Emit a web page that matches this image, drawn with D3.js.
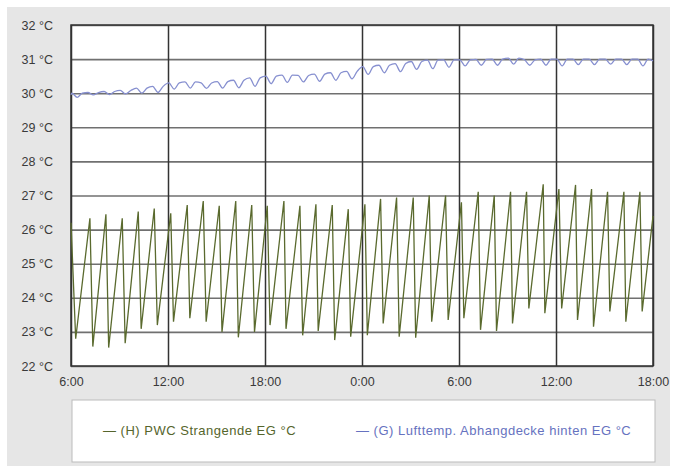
<!DOCTYPE html>
<html><head><meta charset="utf-8">
<script src="https://cdn.jsdelivr.net/npm/d3@7/dist/d3.min.js"></script>
<style>
html,body{margin:0;padding:0;background:#fff;}
svg{display:block;font-family:"Liberation Sans",Arial,sans-serif;}
</style></head>
<body><svg id="c" width="677" height="470"></svg>
<script>
// ---- data ----
const yTicks = [22,23,24,25,26,27,28,29,30,31,32];
const xTickLabels = ["6:00","12:00","18:00","0:00","6:00","12:00","18:00"];
const seriesNames = ["(H) PWC Strangende EG °C", "(G) Lufttemp. Abhangdecke hinten EG °C"];
// hours after 6:00 (day 1), value °C
const greenData = [
 [0,26.2],[0.29,22.8],
 [1.17,26.33],[1.35,22.57],[2.16,26.45],[2.33,22.54],[3.17,26.33],[3.35,22.67],
 [4.16,26.53],[4.34,23.09],[5.15,26.62],[5.34,23.2],[6.17,26.48],[6.34,23.3],
 [7.19,26.72],[7.35,23.4],[8.18,26.84],[8.36,23.3],[9.17,26.7],[9.34,23.0],
 [10.19,26.84],[10.35,22.84],[11.18,26.72],[11.35,23.0],
 [12.14,26.7],[12.31,23.2],[13.17,26.84],[13.30,23.09],[14.16,26.7],[14.33,22.9],
 [15.15,26.74],[15.29,23.03],[16.16,26.72],[16.31,22.76],[17.15,26.6],[17.30,22.86],
 [18.18,26.74],[18.33,22.9],[19.15,26.9],[19.31,23.25],[20.14,26.94],[20.30,22.86],
 [21.17,26.94],[21.32,22.83],[22.16,27.0],[22.31,23.3],[23.17,27.0],[23.33,23.35],
 [24.15,26.8],[24.30,23.4],[25.19,27.11],[25.33,23.06],[26.18,27.0],[26.32,23.03],
 [27.19,27.11],[27.31,23.25],[28.18,27.11],[28.32,23.69],[29.21,27.33],[29.31,23.55],
 [30.18,27.19],[30.35,23.69],[31.21,27.31],[31.33,23.35],[32.20,27.19],[32.32,23.15],
 [33.19,27.11],[33.33,23.6],[34.20,27.11],[34.32,23.3],[35.19,27.11],[35.33,23.6],
 [36,26.4]
];
// per hour: [hour, high, low]
const blueHours = [
 [0,30.0,29.88],[1,30.02,29.95],[2,30.05,29.96],[3,30.08,29.98],[4,30.15,30.0],[5,30.2,30.02],
 [6,30.3,30.12],[7,30.33,30.15],[8,30.3,30.14],[9,30.34,30.15],[10,30.38,30.16],[11,30.45,30.2],
 [12,30.5,30.28],[13,30.53,30.32],[14,30.52,30.33],[15,30.56,30.35],[16,30.6,30.38],[17,30.64,30.42],
 [18,30.78,30.55],[19,30.82,30.6],[20,30.87,30.63],[21,30.93,30.7],[22,30.97,30.72],[23,30.98,30.76],
 [24,30.98,30.8],[25,30.99,30.82],[26,31.0,30.82],[27,31.03,30.85],[28,30.98,30.82],[29,31.0,30.82],
 [30,31.0,30.8],[31,31.0,30.84],[32,31.0,30.84],[33,31.0,30.85],[34,31.0,30.84],[35,31.0,30.8]
];
const blueEnd = [36,30.95];

// ---- chart ----
const W=677,H=470;
const M={l:71,r:653,t:25,b:366};
const svg=d3.select("#c");
const base=new Date(2020,0,1,6,0,0);
const hr=h=>new Date(+base+h*3600000);

svg.append("rect").attr("x",7).attr("y",7).attr("width",663).attr("height",459).attr("fill","#e6e6e6");
svg.append("rect").attr("x",M.l).attr("y",M.t).attr("width",M.r-M.l).attr("height",M.b-M.t).attr("fill","#fff");

const x=d3.scaleTime().domain([hr(0),hr(36)]).range([M.l,M.r]);
const y=d3.scaleLinear().domain([22,32]).range([M.b,M.t]);
const xTicks=d3.range(0,37,6).map(hr);

// horizontal grid
svg.append("g").attr("transform",`translate(${M.l},0)`)
  .call(d3.axisLeft(y).tickValues(yTicks).tickSize(-(M.r-M.l)).tickFormat(""))
  .call(g=>{g.select(".domain").remove();g.selectAll("line").attr("stroke","#707070").attr("stroke-width",1.6);});
// vertical grid
svg.append("g").attr("transform",`translate(0,${M.b})`)
  .call(d3.axisBottom(x).tickValues(xTicks).tickSize(-(M.b-M.t)).tickFormat(""))
  .call(g=>{g.select(".domain").remove();g.selectAll("line").attr("stroke","#333").attr("stroke-width",1.5);});
// border
svg.append("rect").attr("x",M.l).attr("y",M.t).attr("width",M.r-M.l).attr("height",M.b-M.t)
  .attr("fill","none").attr("stroke","#333").attr("stroke-width",1.5);

// y labels
svg.append("g").attr("transform",`translate(${M.l},0)`)
  .call(d3.axisLeft(y).tickValues(yTicks).tickSize(0).tickPadding(18).tickFormat(d=>d+" °C"))
  .call(g=>{g.select(".domain").remove();g.selectAll("text").attr("fill","#3a3a3a").style("font-size","12.5px");});
// x labels
svg.append("g").attr("transform",`translate(0,${M.b})`)
  .call(d3.axisBottom(x).tickValues(xTicks).tickSize(0).tickPadding(11).tickFormat((d,i)=>xTickLabels[i]))
  .call(g=>{g.select(".domain").remove();g.selectAll("text").attr("fill","#3a3a3a").style("font-size","12.5px");});

const greenColor="#5a6a2e", blueColor="#8790d0";
const line=d3.line().x(d=>x(hr(d[0]))).y(d=>y(d[1]));
svg.append("path").datum(greenData).attr("d",line).attr("fill","none").attr("stroke",greenColor).attr("stroke-width",1.3);

const bluePts=[];
blueHours.forEach(r=>{bluePts.push([r[0]+0.05,r[1]]);bluePts.push([r[0]+0.38,r[2]]);bluePts.push([r[0]+0.7,r[1]]);});
bluePts.unshift([0,29.95]);
bluePts.push(blueEnd);
const bline=d3.line().x(d=>x(hr(d[0]))).y(d=>y(d[1])).curve(d3.curveMonotoneX);
svg.append("path").datum(bluePts).attr("d",bline).attr("fill","none").attr("stroke",blueColor).attr("stroke-width",1.3);

// legend
svg.append("rect").attr("x",72).attr("y",400).attr("width",583).attr("height",62).attr("fill","#fff").attr("stroke","#bbb");
const leg=[{t:"— "+seriesNames[0],x:103,c:"#55652c"},{t:"— "+seriesNames[1],x:356,c:"#6672c0"}];
svg.selectAll(".leg").data(leg).enter().append("text")
  .attr("x",d=>d.x).attr("y",435).attr("fill",d=>d.c).style("font-size","13px").style("letter-spacing","0.5px").text(d=>d.t);
</script></body></html>
